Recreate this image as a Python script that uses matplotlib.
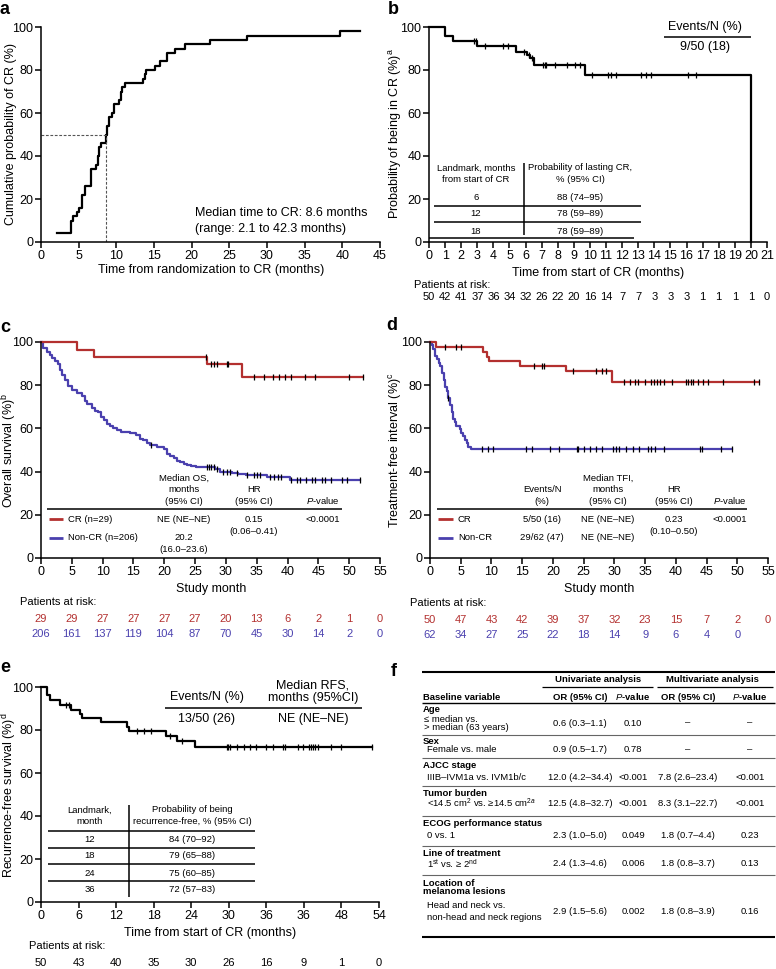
import numpy as np
import matplotlib
matplotlib.use('Agg')
import matplotlib.pyplot as plt
from matplotlib.lines import Line2D
from matplotlib import transforms

plt.rcParams['font.family'] = ['Liberation Sans', 'DejaVu Sans']
plt.rcParams['mathtext.fontset'] = 'custom'
plt.rcParams['mathtext.rm'] = 'Liberation Sans'
plt.rcParams['mathtext.it'] = 'Liberation Sans:italic'
plt.rcParams['mathtext.bf'] = 'Liberation Sans:bold'

W, H = 776, 969
RED = '#b3302f'
BLUE = '#4a40ae'

# ---- panel a: cumulative probability of CR
a_times = [2.1, 4.0, 4.3, 4.8, 5.0, 5.5, 5.8, 6.6, 7.3, 7.5, 7.7, 8.0, 8.6, 8.8, 9.0, 9.4,
           9.7, 10.3, 10.6, 10.8, 11.1, 13.5, 13.8, 14.0, 15.1, 15.8, 16.7, 17.8, 19.1,
           22.4, 27.3, 39.7]
a_probs = [4, 10, 12, 14, 16, 22, 26, 34, 36, 40, 44, 46, 50, 54, 58, 60, 64, 66, 70, 72,
           74, 76, 78, 80, 82, 84, 88, 90, 92, 94, 96, 98]
a_end = 42.4
a_median = 8.6

# ---- panel b: probability of being in CR
b_times = [0, 1.0, 1.5, 3.0, 5.4, 6.1, 6.3, 6.5, 9.7, 20.0]
b_surv = [100, 96.0, 93.3, 91.0, 88.3, 87.0, 85.5, 82.4, 77.8, 0]
b_end = 20.0
b_cens = [2.8, 2.9, 3.5, 4.6, 4.9, 5.9, 6.2, 6.4, 7.1, 7.2, 7.3, 7.8, 8.6, 9.1, 9.4, 10.1,
          11.1, 11.3, 11.6, 13.2, 13.5, 13.8, 16.1, 16.6]
b_risk = [50, 42, 41, 37, 36, 34, 32, 26, 22, 20, 16, 14, 7, 7, 3, 3, 3, 1, 1, 1, 1, 0]
b_landmark = ['6', '12', '18']
b_prob = ['88 (74–95)', '78 (59–89)', '78 (59–89)']

# ---- panel c: overall survival
c_cr_times = [0, 5.8, 8.6, 26.9, 32.6]
c_cr_surv = [100, 96.5, 93.1, 89.7, 83.6]
c_cr_end = 52.2
c_cr_cens = [26.7, 27.6, 28.1, 28.6, 30.2, 30.4, 34.5, 36.1, 37.6, 38.6, 39.6, 40.6, 42.9,
             44.4, 50.0, 52.2]
c_ncr_times = [0, 0.4, 0.9, 1.4, 1.8, 2.3, 2.7, 3.1, 3.4, 3.9, 4.4, 5.0, 5.8, 6.6, 7.1, 7.5,
               8.2, 8.8, 9.3, 9.8, 10.2, 10.7, 11.2, 11.7, 12.4, 12.9, 14.4, 15.4, 16.1, 16.6,
               17.2, 17.7, 18.8, 19.9, 20.4, 20.9, 21.5, 22.1, 22.6, 23.2, 23.7, 24.4, 25.2,
               28.3, 29.1, 31.0, 32.0, 33.2, 36.7, 40.4]
c_ncr_surv = [100, 97.1, 95.6, 94.2, 92.7, 91.3, 89.8, 86.9, 84.5, 82.5, 79.6, 77.7, 76.2,
              74.8, 72.8, 71.4, 69.4, 68.0, 67.5, 65.5, 64.1, 62.1, 61.2, 60.2, 59.2, 58.3,
              57.8, 56.8, 55.3, 54.4, 53.4, 52.4, 51.5, 50.5, 48.1, 47.1, 46.1, 45.1, 44.6,
              43.7, 43.2, 42.7, 42.2, 41.2, 39.9, 39.2, 38.7, 38.2, 37.6, 36.0]
c_ncr_end = 51.8
c_ncr_cens = [17.9, 27.0, 27.3, 27.6, 28.0, 28.5, 29.5, 30.1, 30.7, 31.8, 33.5, 34.5, 35.0,
              35.5, 37.2, 37.8, 38.4, 39.0, 40.6, 41.5, 42.0, 43.0, 44.0, 44.5, 45.6, 46.0,
              47.0, 48.8, 49.7, 51.8]
c_risk_cr = [29, 29, 27, 27, 27, 27, 20, 13, 6, 2, 1, 0]
c_risk_ncr = [206, 161, 137, 119, 104, 87, 70, 45, 30, 14, 2, 0]

# ---- panel d: treatment-free interval
d_cr_times = [0, 1.0, 8.6, 9.2, 9.6, 14.6, 22.1, 29.6]
d_cr_surv = [100, 97.7, 95.4, 93.0, 91.0, 89.0, 86.5, 81.5]
d_cr_end = 53.6
d_cr_cens = [2.4, 4.3, 5.0, 16.9, 18.3, 18.5, 23.2, 27.0, 28.0, 28.7, 31.5, 32.5, 33.3,
             33.8, 35.0, 35.9, 36.5, 37.0, 37.5, 38.0, 39.3, 41.6, 42.0, 42.4, 42.8, 43.6,
             44.4, 45.3, 47.6, 52.8, 53.6]
d_ncr_times = [0, 0.3, 0.5, 0.8, 1.1, 1.4, 1.6, 1.9, 2.2, 2.4, 2.7, 3.0, 3.3, 3.5, 3.8, 4.1,
               4.3, 4.9, 5.1, 5.4, 5.7, 6.0, 6.2, 6.6]
d_ncr_surv = [100, 98.4, 96.8, 93.5, 91.9, 90.3, 88.7, 85.5, 82.3, 79.0, 77.4, 74.2, 71.0,
              67.7, 64.5, 62.9, 61.3, 59.7, 58.1, 56.5, 54.8, 53.2, 51.6, 50.5]
d_ncr_end = 49.2
d_ncr_cens = [3.0, 8.5, 9.4, 10.3, 15.6, 16.6, 19.5, 21.0, 23.9, 24.1, 25.0, 26.0, 27.0,
              28.0, 29.8, 30.3, 30.8, 31.9, 33.0, 34.0, 35.4, 35.9, 36.6, 38.0, 44.0, 44.2,
              47.4, 49.2]
d_risk_cr = [50, 47, 43, 42, 39, 37, 32, 23, 15, 7, 2, 0]
d_risk_ncr = [62, 34, 27, 25, 22, 18, 14, 9, 6, 4, 0]

# ---- panel e: recurrence-free survival
e_times = [0, 1.0, 1.5, 3.0, 4.8, 6.2, 6.5, 9.6, 13.7, 14.1, 20.0, 21.8, 24.6]
e_surv = [100, 96.1, 93.8, 91.6, 89.5, 87.5, 85.5, 83.5, 81.4, 79.4, 77.2, 75.1, 72.3]
e_end = 52.9
e_cens = [4.0, 4.5, 15.3, 16.5, 17.5, 20.6, 22.6, 29.7, 29.9, 30.2, 31.3, 32.5, 33.4, 34.3,
          36.0, 37.0, 38.6, 39.0, 41.0, 41.8, 42.8, 43.1, 43.4, 43.8, 44.3, 46.3, 48.0, 52.9]
e_xticklabels = ['0', '6', '12', '18', '24', '30', '36', '36', '48', '54']
e_risk = [50, 43, 40, 35, 30, 26, 16, 9, 1, 0]
e_landmark = ['12', '18', '24', '36']
e_prob = ['84 (70–92)', '79 (65–88)', '75 (60–85)', '72 (57–83)']

# ---- panel f: odds ratio table
f_groups = ['Age', 'Sex', 'AJCC stage', 'Tumor burden', 'ECOG performance status',
            'Line of treatment', 'Location of\nmelanoma lesions']
f_labels = ['≤ median vs.\n> median (63 years)', 'Female vs. male', 'IIIB–IVM1a vs. IVM1b/c',
            r'<14.5 cm$^{2}$ vs. ≥14.5 cm$^{2a}$', '0 vs. 1',
            r'1$^{\rm st}$ vs. ≥ 2$^{\rm nd}$', 'Head and neck vs.\nnon-head and neck regions']
f_uni_or = ['0.6 (0.3–1.1)', '0.9 (0.5–1.7)', '12.0 (4.2–34.4)', '12.5 (4.8–32.7)',
            '2.3 (1.0–5.0)', '2.4 (1.3–4.6)', '2.9 (1.5–5.6)']
f_uni_p = ['0.10', '0.78', '<0.001', '<0.001', '0.049', '0.006', '0.002']
f_multi_or = ['–', '–', '7.8 (2.6–23.4)', '8.3 (3.1–22.7)', '1.8 (0.7–4.4)',
              '1.8 (0.8–3.7)', '1.8 (0.8–3.9)']
f_multi_p = ['–', '–', '<0.001', '<0.001', '0.23', '0.13', '0.16']

fig = plt.figure(figsize=(W / 100, H / 100), dpi=100)


def px_ax(l, t, r, b):
    return fig.add_axes([l / W, 1 - b / H, (r - l) / W, (b - t) / H])


def ptext(x, y, s, size=7, ha='center', va='center', **kw):
    fig.text(x / W, 1 - y / H, s, fontsize=size, ha=ha, va=va, **kw)


def pline(x0, x1, y0, y1, lw=1.0, color='black'):
    fig.add_artist(Line2D([x0 / W, x1 / W], [1 - y0 / H, 1 - y1 / H], lw=lw, color=color,
                          transform=fig.transFigure, solid_capstyle='butt'))


def style_ax(ax, xmax, xticks, xticklabels=None):
    ax.set_xlim(0, xmax)
    ax.set_ylim(0, 100)
    for side in ['top', 'right']:
        ax.spines[side].set_visible(False)
    for side in ['left', 'bottom']:
        ax.spines[side].set_linewidth(1.1)
    ax.set_yticks([0, 20, 40, 60, 80, 100])
    ax.set_xticks(xticks)
    if xticklabels is not None:
        ax.set_xticklabels(xticklabels)
    ax.tick_params(direction='out', length=4, width=1.1, labelsize=9, pad=1.5)


def km(ax, t, s, t_end, cens, color):
    tt = list(t) + [t_end]
    ss = list(s) + [s[-1]]
    ax.step(tt, ss, where='post', color=color, lw=1.6, clip_on=False)
    idx = np.searchsorted(t, cens, side='right') - 1
    ax.plot(cens, np.array(s)[idx], ls='none', marker='|', ms=4.5, mew=0.9, color='black',
            clip_on=False)


def atrisk(ax, xs, vals, y, color='black', size=8):
    tr = transforms.blended_transform_factory(ax.transData, fig.transFigure)
    for x, v in zip(xs, vals):
        ax.text(x, 1 - y / H, str(v), transform=tr, ha='center', va='center', fontsize=size,
                color=color)


# ================= panel a
ax = px_ax(41, 27, 380, 242)
style_ax(ax, 45, range(0, 46, 5))
ax.step(a_times + [a_end], a_probs + [a_probs[-1]], where='post', color='black', lw=1.6,
        clip_on=False)
ax.plot([0, a_median], [50, 50], ls=(0, (2.5, 1.5)), color='#555555', lw=0.8)
ax.plot([a_median, a_median], [0, 50], ls=(0, (2.5, 1.5)), color='#555555', lw=0.8)
ptext(211, 270, 'Time from randomization to CR (months)', 9)
ptext(11, 134, 'Cumulative probability of CR (%)', 9, rotation=90)
ptext(195, 213, 'Median time to CR: 8.6 months', 9, ha='left')
ptext(195, 229, '(range: 2.1 to 42.3 months)', 9, ha='left')
ptext(5, 10, 'a', 13, weight='bold')

# ================= panel b
ax = px_ax(429, 27, 767, 242)
style_ax(ax, 21, range(0, 22))
km(ax, b_times, b_surv, b_end, b_cens, 'black')
ptext(598, 273, 'Time from start of CR (months)', 9)
ptext(396, 134, r'Probability of being in CR (%)$^{\rm a}$', 9, rotation=90)
ptext(705, 27, 'Events/N (%)', 9)
pline(664, 751, 37, 37, 1.1)
ptext(705, 47, '9/50 (18)', 9)
pline(524, 524, 163, 235, 1.1)
pline(434, 641, 206, 206, 1.1)
pline(434, 641, 222, 222, 1.1)
pline(429, 634, 238, 238, 1.1)
ptext(476, 168, 'Landmark, months', 6.8)
ptext(476, 180, 'from start of CR', 6.8)
ptext(580, 168, 'Probability of lasting CR,', 6.8)
ptext(580, 180, '% (95% CI)', 6.8)
for yy, lm, pr in zip([198, 214, 231], b_landmark, b_prob):
    ptext(476, yy, lm, 6.8)
    ptext(580, yy, pr, 6.8)
ptext(414, 285, 'Patients at risk:', 8, ha='left')
atrisk(ax, range(0, 22), b_risk, 297)
ptext(393, 9, 'b', 13, weight='bold')

# ================= panel c
ax = px_ax(41, 342, 380, 558)
style_ax(ax, 55, range(0, 56, 5))
km(ax, c_ncr_times, c_ncr_surv, c_ncr_end, c_ncr_cens, BLUE)
km(ax, c_cr_times, c_cr_surv, c_cr_end, c_cr_cens, RED)
ptext(211, 589, 'Study month', 9)
ptext(9, 450, r'Overall survival (%)$^{\rm b}$', 9, rotation=90)
ptext(184, 478, 'Median OS,', 6.8)
ptext(184, 489, 'months', 6.8)
ptext(184, 501, '(95% CI)', 6.8)
ptext(254, 489, 'HR', 6.8)
ptext(254, 501, '(95% CI)', 6.8)
ptext(323, 501, r'$\it{P}$-value', 6.8)
pline(47, 342, 509, 509, 1.1)
pline(49, 63, 519, 519, 2.0, RED)
pline(49, 63, 538, 538, 2.0, BLUE)
ptext(68, 519, 'CR (n=29)', 6.8, ha='left')
ptext(68, 538, 'Non-CR (n=206)', 6.8, ha='left')
ptext(184, 519, 'NE (NE–NE)', 6.8)
ptext(254, 519, '0.15', 6.8)
ptext(254, 531, '(0.06–0.41)', 6.8)
ptext(323, 519, '<0.0001', 6.8)
ptext(184, 538, '20.2', 6.8)
ptext(184, 550, '(16.0–23.6)', 6.8)
ptext(20, 602, 'Patients at risk:', 8, ha='left')
atrisk(ax, range(0, 56, 5), c_risk_cr, 619, RED)
atrisk(ax, range(0, 56, 5), c_risk_ncr, 634, BLUE)
ptext(5, 327, 'c', 13, weight='bold')

# ================= panel d
ax = px_ax(430, 342, 768, 558)
style_ax(ax, 55, range(0, 56, 5))
km(ax, d_ncr_times, d_ncr_surv, d_ncr_end, d_ncr_cens, BLUE)
km(ax, d_cr_times, d_cr_surv, d_cr_end, d_cr_cens, RED)
ptext(599, 589, 'Study month', 9)
ptext(396, 450, r'Treatment-free interval (%)$^{\rm c}$', 9, rotation=90)
ptext(608, 478, 'Median TFI,', 6.8)
ptext(542, 489, 'Events/N', 6.8)
ptext(542, 501, '(%)', 6.8)
ptext(608, 489, 'months', 6.8)
ptext(608, 501, '(95% CI)', 6.8)
ptext(674, 489, 'HR', 6.8)
ptext(674, 501, '(95% CI)', 6.8)
ptext(730, 501, r'$\it{P}$-value', 6.8)
pline(437, 747, 509, 509, 1.1)
pline(438, 453, 519, 519, 2.0, RED)
pline(438, 453, 538, 538, 2.0, BLUE)
ptext(458, 519, 'CR', 6.8, ha='left')
ptext(458, 538, 'Non-CR', 6.8, ha='left')
ptext(542, 519, '5/50 (16)', 6.8)
ptext(542, 538, '29/62 (47)', 6.8)
ptext(608, 519, 'NE (NE–NE)', 6.8)
ptext(608, 538, 'NE (NE–NE)', 6.8)
ptext(674, 519, '0.23', 6.8)
ptext(674, 531, '(0.10–0.50)', 6.8)
ptext(730, 519, '<0.0001', 6.8)
ptext(410, 603, 'Patients at risk:', 8, ha='left')
atrisk(ax, range(0, 56, 5), d_risk_cr, 620, RED)
atrisk(ax, range(0, 51, 5), d_risk_ncr, 635, BLUE)
ptext(392, 326, 'd', 13, weight='bold')

# ================= panel e
ax = px_ax(41, 687, 379, 902)
style_ax(ax, 54, range(0, 55, 6), e_xticklabels)
km(ax, e_times, e_surv, e_end, e_cens, 'black')
ptext(210, 933, 'Time from start of CR (months)', 9)
ptext(9, 795, r'Recurrence-free survival (%)$^{\rm d}$', 9, rotation=90)
ptext(207, 697, 'Events/N (%)', 9)
ptext(313, 686, 'Median RFS,', 9)
ptext(313, 698, 'months (95%CI)', 9)
pline(165, 362, 708, 708, 1.1)
ptext(207, 719, '13/50 (26)', 9)
ptext(313, 719, 'NE (NE–NE)', 9)
pline(129, 129, 805, 897, 1.1)
for yy in [831, 848, 864, 881]:
    pline(48, 255, yy, yy, 1.1)
ptext(90, 810, 'Landmark,', 6.8)
ptext(90, 822, 'month', 6.8)
ptext(192, 810, 'Probability of being', 6.8)
ptext(192, 822, 'recurrence-free, % (95% CI)', 6.8)
for yy, lm, pr in zip([839, 856, 873, 890], e_landmark, e_prob):
    ptext(90, yy, lm, 6.8)
    ptext(192, yy, pr, 6.8)
ptext(29, 946, 'Patients at risk:', 8, ha='left')
atrisk(ax, range(0, 55, 6), e_risk, 963)
ptext(5, 668, 'e', 13, weight='bold')

# ================= panel f
ptext(394, 671, 'f', 13, weight='bold')
FS = 6.8
cols = [580, 633, 688, 750]
pline(422, 775, 672, 672, 1.5)
ptext(598, 679, 'Univariate analysis', FS, weight='bold')
ptext(712, 679, 'Multivariate analysis', FS, weight='bold')
pline(542, 653, 687, 687, 0.9)
pline(657, 773, 687, 687, 0.9)
ptext(423, 697, 'Baseline variable', FS, ha='left', weight='bold')
for c, s in zip(cols, ['OR (95% CI)', r'$\it{P}$-value', 'OR (95% CI)', r'$\it{P}$-value']):
    ptext(c, 697, s, FS, weight='bold')
pline(422, 775, 703, 703, 1.0)

group_y = [710, 741, 765, 793, 823, 853, 883]
label_y = [719, 750, 777, 803, 835, 864, 906]
value_y = [723, 750, 777, 803, 835, 864, 911]
sep_y = [735, 758, 786, 816, 846, 875]
for i in range(len(f_groups)):
    g_lines = f_groups[i].split('\n')
    for k, gl in enumerate(g_lines):
        ptext(423, group_y[i] + 9 * k, gl, FS, ha='left', weight='bold')
    l_lines = f_labels[i].split('\n')
    x0 = 424 if i == 0 else 427
    for k, ll in enumerate(l_lines):
        ptext(x0, label_y[i] + (8 if i == 0 else 11) * k, ll, FS, ha='left')
    for c, s in zip(cols, [f_uni_or[i], f_uni_p[i], f_multi_or[i], f_multi_p[i]]):
        ptext(c, value_y[i], s, FS)
for yy in sep_y:
    pline(422, 775, yy, yy, 0.8, '#666666')
pline(422, 775, 937, 937, 1.5)

fig.savefig('out.png', dpi=100)
